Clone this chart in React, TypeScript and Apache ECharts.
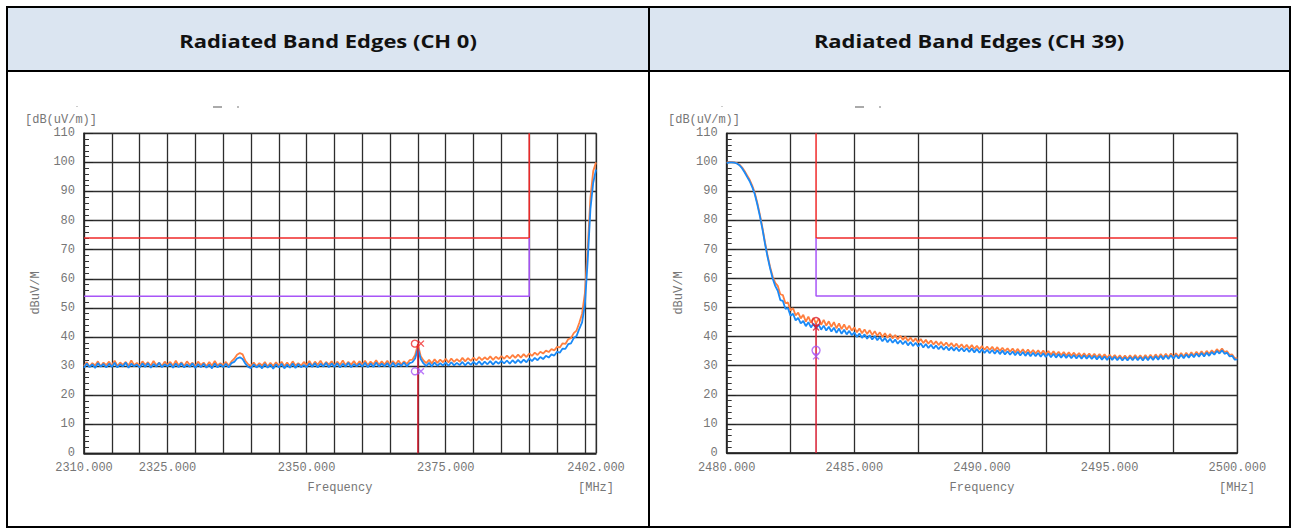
import React, { useEffect, useRef } from "react";
import * as echarts from "echarts";

// ---------- Titles ----------
const titles = ["Radiated Band Edges (CH 0)", "Radiated Band Edges (CH 39)"];

// ---------- Left chart (CH 0) ----------
const leftXLabels = [2310, 2325, 2350, 2375, 2402];
const leftFreq = [
  2310, 2310.5, 2311, 2311.5, 2312, 2312.5, 2313, 2313.5, 2314, 2314.5,
  2315, 2315.5, 2316, 2316.5, 2317, 2317.5, 2318, 2318.5, 2319, 2319.5,
  2320, 2320.5, 2321, 2321.5, 2322, 2322.5, 2323, 2323.5, 2324, 2324.5,
  2325, 2325.5, 2326, 2326.5, 2327, 2327.5, 2328, 2328.5, 2329, 2329.5,
  2330, 2330.5, 2331, 2331.5, 2332, 2332.5, 2333, 2333.5, 2334, 2334.5,
  2335, 2335.5, 2336, 2336.5, 2337, 2337.5, 2338, 2338.5, 2339, 2339.5,
  2340, 2340.5, 2341, 2341.5, 2342, 2342.5, 2343, 2343.5, 2344, 2344.5,
  2345, 2345.5, 2346, 2346.5, 2347, 2347.5, 2348, 2348.5, 2349, 2349.5,
  2350, 2350.5, 2351, 2351.5, 2352, 2352.5, 2353, 2353.5, 2354, 2354.5,
  2355, 2355.5, 2356, 2356.5, 2357, 2357.5, 2358, 2358.5, 2359, 2359.5,
  2360, 2360.5, 2361, 2361.5, 2362, 2362.5, 2363, 2363.5, 2364, 2364.5,
  2365, 2365.5, 2366, 2366.5, 2367, 2367.5, 2368, 2368.5, 2369, 2369.5,
  2370, 2370.5, 2371, 2371.5, 2372, 2372.5, 2373, 2373.5, 2374, 2374.5,
  2375, 2375.5, 2376, 2376.5, 2377, 2377.5, 2378, 2378.5, 2379, 2379.5,
  2380, 2380.5, 2381, 2381.5, 2382, 2382.5, 2383, 2383.5, 2384, 2384.5,
  2385, 2385.5, 2386, 2386.5, 2387, 2387.5, 2388, 2388.5, 2389, 2389.5,
  2390, 2390.5, 2391, 2391.5, 2392, 2392.5, 2393, 2393.5, 2394, 2394.5,
  2395, 2395.5, 2396, 2396.5, 2397, 2397.5, 2398, 2398.5, 2399, 2399.5,
  2400, 2400.5, 2401, 2401.5, 2402,
];
const leftPeak = [
  30.0, 31.3, 29.8, 31.0, 30.2, 31.6, 29.9, 31.2, 30.3, 31.5,
  30.1, 31.8, 30.0, 31.2, 30.4, 31.4, 30.2, 31.9, 30.3, 31.1,
  30.0, 31.6, 30.4, 31.3, 30.1, 31.7, 30.3, 31.2, 30.0, 31.5,
  30.3, 31.4, 30.1, 31.8, 30.2, 31.3, 30.0, 31.6, 30.4, 31.1,
  30.0, 31.5, 30.3, 31.2, 29.9, 31.4, 30.1, 31.7, 30.2, 31.0,
  30.3, 31.4, 30.1, 31.6, 32.5, 33.9, 34.5, 34.0, 31.8, 30.6,
  30.0, 31.2, 29.9, 31.0, 30.2, 31.4, 29.8, 31.1, 30.0, 31.3,
  30.1, 31.5, 29.9, 31.2, 30.0, 31.6, 30.2, 31.0, 30.1, 31.4,
  30.3, 31.7, 30.1, 31.5, 30.4, 31.8, 30.2, 31.4, 30.5, 31.6,
  30.2, 31.5, 30.4, 31.9, 30.3, 31.4, 30.5, 31.7, 30.3, 31.6,
  30.5, 31.8, 30.3, 31.5, 30.6, 32.0, 30.4, 31.6, 30.5, 31.8,
  30.4, 31.7, 30.6, 31.9, 30.5, 31.6, 30.7, 32.0, 32.2, 33.8,
  37.5, 33.4, 31.9, 31.0, 32.1, 30.9, 32.3, 31.1, 32.2, 31.3,
  32.5, 31.2, 32.6, 31.4, 32.4, 31.5, 32.8, 31.6, 32.7, 31.8,
  32.9, 31.9, 33.1, 32.0, 33.0, 32.2, 33.3, 32.1, 33.2, 32.4,
  33.4, 32.5, 33.6, 32.6, 33.8, 32.8, 33.9, 32.9, 34.1, 33.1,
  34.3, 33.5, 34.6, 33.8, 34.9, 34.3, 35.3, 34.8, 35.8, 35.4,
  36.6, 36.4, 37.8, 37.6, 39.2, 39.6, 41.3, 42.2, 44.9, 48.0,
  55.0, 70.0, 88.0, 97.0, 100.0,
];
const leftAvg = [
  29.4, 30.9, 29.6, 30.6, 29.3, 31.0, 29.8, 30.7, 29.5, 30.8,
  29.7, 31.1, 29.5, 30.6, 29.8, 31.2, 29.4, 30.8, 29.9, 30.5,
  29.5, 30.9, 29.7, 31.0, 29.4, 30.7, 29.8, 31.1, 29.6, 30.6,
  29.9, 30.8, 29.4, 30.9, 29.6, 31.0, 29.5, 30.6, 29.7, 30.9,
  29.3, 30.7, 29.6, 30.8, 29.4, 30.5, 29.2, 30.9, 29.5, 30.6,
  29.6, 30.8, 29.5, 31.0, 31.4, 32.6, 33.0, 32.4, 30.8, 29.7,
  29.3, 30.6, 29.5, 30.4, 29.2, 30.7, 29.4, 30.5, 29.1, 30.6,
  29.5, 30.8, 29.2, 30.5, 29.4, 30.9, 29.3, 30.7, 29.6, 30.4,
  29.6, 30.9, 29.7, 31.0, 29.5, 30.8, 29.8, 31.1, 29.6, 30.9,
  29.7, 31.0, 29.5, 30.8, 29.8, 31.1, 29.6, 30.7, 29.9, 30.8,
  29.8, 31.1, 29.6, 30.9, 29.7, 31.2, 29.8, 30.8, 29.9, 31.0,
  29.7, 31.1, 29.8, 30.9, 30.0, 31.2, 29.9, 31.0, 31.3, 32.6,
  36.0, 32.4, 30.9, 30.0, 31.1, 29.9, 31.2, 30.1, 31.0, 30.2,
  31.2, 30.1, 31.3, 30.2, 31.1, 30.3, 31.4, 30.2, 31.3, 30.4,
  31.4, 30.5, 31.6, 30.4, 31.5, 30.6, 31.7, 30.5, 31.6, 30.8,
  31.8, 30.9, 31.9, 30.8, 32.0, 31.0, 32.1, 31.1, 32.2, 31.3,
  32.6, 31.7, 32.8, 32.0, 33.1, 32.4, 33.5, 32.9, 34.0, 33.6,
  34.9, 34.6, 36.0, 35.9, 37.5, 37.8, 39.6, 40.3, 42.8, 45.0,
  51.0, 66.0, 84.0, 93.0, 97.5,
];
const leftLimitPeak = [[2310, 74], [2390, 74], [2390, 110]];
const leftLimitAvg = [[2310, 54], [2390, 54], [2390, 74]];
const leftMarkerLine = [[2370, 0], [2370, 37.7]];
const leftMarkerPeak = [2370, 37.7];
const leftMarkerAvg = [2370, 28.2];

// ---------- Right chart (CH 39) ----------
const rightXLabels = [2480, 2485, 2490, 2495, 2500];
const rightFreq = [
  2480.0, 2480.1, 2480.2, 2480.3, 2480.4, 2480.5, 2480.6, 2480.7, 2480.8, 2480.9,
  2481.0, 2481.1, 2481.2, 2481.3, 2481.4, 2481.5, 2481.6, 2481.7, 2481.8, 2481.9,
  2482.0, 2482.1, 2482.2, 2482.3, 2482.4, 2482.5, 2482.6, 2482.7, 2482.8, 2482.9,
  2483.0, 2483.1, 2483.2, 2483.3, 2483.4, 2483.5, 2483.6, 2483.7, 2483.8, 2483.9,
  2484.0, 2484.1, 2484.2, 2484.3, 2484.4, 2484.5, 2484.6, 2484.7, 2484.8, 2484.9,
  2485.0, 2485.1, 2485.2, 2485.3, 2485.4, 2485.5, 2485.6, 2485.7, 2485.8, 2485.9,
  2486.0, 2486.1, 2486.2, 2486.3, 2486.4, 2486.5, 2486.6, 2486.7, 2486.8, 2486.9,
  2487.0, 2487.1, 2487.2, 2487.3, 2487.4, 2487.5, 2487.6, 2487.7, 2487.8, 2487.9,
  2488.0, 2488.1, 2488.2, 2488.3, 2488.4, 2488.5, 2488.6, 2488.7, 2488.8, 2488.9,
  2489.0, 2489.1, 2489.2, 2489.3, 2489.4, 2489.5, 2489.6, 2489.7, 2489.8, 2489.9,
  2490.0, 2490.1, 2490.2, 2490.3, 2490.4, 2490.5, 2490.6, 2490.7, 2490.8, 2490.9,
  2491.0, 2491.1, 2491.2, 2491.3, 2491.4, 2491.5, 2491.6, 2491.7, 2491.8, 2491.9,
  2492.0, 2492.1, 2492.2, 2492.3, 2492.4, 2492.5, 2492.6, 2492.7, 2492.8, 2492.9,
  2493.0, 2493.1, 2493.2, 2493.3, 2493.4, 2493.5, 2493.6, 2493.7, 2493.8, 2493.9,
  2494.0, 2494.1, 2494.2, 2494.3, 2494.4, 2494.5, 2494.6, 2494.7, 2494.8, 2494.9,
  2495.0, 2495.1, 2495.2, 2495.3, 2495.4, 2495.5, 2495.6, 2495.7, 2495.8, 2495.9,
  2496.0, 2496.1, 2496.2, 2496.3, 2496.4, 2496.5, 2496.6, 2496.7, 2496.8, 2496.9,
  2497.0, 2497.1, 2497.2, 2497.3, 2497.4, 2497.5, 2497.6, 2497.7, 2497.8, 2497.9,
  2498.0, 2498.1, 2498.2, 2498.3, 2498.4, 2498.5, 2498.6, 2498.7, 2498.8, 2498.9,
  2499.0, 2499.1, 2499.2, 2499.3, 2499.4, 2499.5, 2499.6, 2499.7, 2499.8, 2499.9,
  2500.0,
];
const rightPeak = [
  99.9, 100.2, 100.1, 100.0, 99.7, 99.2, 98.3, 97.0, 95.5, 94.0,
  92.0, 89.5, 86.0, 82.0, 77.5, 72.5, 68.0, 64.0, 60.8, 58.5,
  57.5, 54.6, 54.3, 51.5, 51.8, 49.0, 49.8, 47.3, 48.3, 46.3,
  47.5, 45.2, 46.9, 44.8, 46.5, 44.5, 46.2, 44.1, 45.8, 43.8,
  45.3, 43.4, 45.0, 42.9, 44.6, 42.6, 44.2, 42.4, 43.8, 42.1,
  43.2, 41.5, 42.8, 41.2, 42.5, 40.9, 42.2, 40.6, 41.9, 40.3,
  41.5, 39.9, 41.2, 39.6, 40.9, 39.4, 40.6, 39.1, 40.3, 38.9,
  40.0, 38.5, 39.7, 38.3, 39.4, 38.0, 39.2, 37.8, 38.9, 37.6,
  38.7, 37.3, 38.4, 37.1, 38.2, 36.9, 38.0, 36.7, 37.8, 36.5,
  37.6, 36.3, 37.4, 36.1, 37.2, 35.9, 37.1, 35.8, 36.9, 35.7,
  36.8, 35.5, 36.6, 35.4, 36.5, 35.2, 36.4, 35.1, 36.2, 35.0,
  36.0, 34.8, 35.9, 34.6, 35.8, 34.5, 35.7, 34.4, 35.6, 34.3,
  35.4, 34.2, 35.3, 34.0, 35.2, 33.9, 35.1, 33.8, 35.0, 33.7,
  34.8, 33.6, 34.7, 33.5, 34.6, 33.4, 34.5, 33.3, 34.4, 33.2,
  34.3, 33.1, 34.2, 33.0, 34.1, 32.9, 34.0, 32.8, 33.9, 32.7,
  33.8, 32.6, 33.7, 32.5, 33.6, 32.4, 33.5, 32.4, 33.6, 32.5,
  33.7, 32.5, 33.6, 32.4, 33.7, 32.5, 33.8, 32.6, 33.9, 32.7,
  34.0, 32.8, 34.1, 32.9, 34.2, 33.0, 34.3, 33.1, 34.4, 33.2,
  34.5, 33.3, 34.6, 33.5, 34.8, 33.7, 35.0, 33.8, 35.1, 34.0,
  35.3, 34.4, 35.7, 34.8, 35.9, 34.7, 35.0, 33.7, 33.9, 32.6,
  32.6,
];
const rightAvg = [
  99.7, 100.0, 100.0, 99.9, 99.6, 99.0, 98.0, 96.6, 95.0, 93.5,
  91.5, 89.0, 85.5, 81.5, 77.0, 72.0, 67.5, 63.5, 60.0, 57.5,
  55.8, 52.6, 52.3, 49.6, 49.8, 47.2, 47.9, 45.6, 46.5, 44.6,
  45.4, 43.6, 45.0, 43.2, 44.5, 42.8, 44.2, 42.4, 43.8, 42.1,
  43.4, 41.8, 43.1, 41.3, 42.8, 41.0, 42.4, 40.8, 42.0, 40.5,
  41.5, 39.9, 41.1, 39.6, 40.8, 39.3, 40.5, 39.0, 40.2, 38.8,
  39.9, 38.4, 39.6, 38.1, 39.3, 37.9, 39.0, 37.6, 38.7, 37.4,
  38.5, 37.0, 38.2, 36.8, 37.9, 36.6, 37.7, 36.3, 37.5, 36.1,
  37.2, 35.9, 37.0, 35.7, 36.8, 35.5, 36.6, 35.3, 36.4, 35.2,
  36.3, 35.0, 36.1, 34.9, 36.0, 34.7, 35.9, 34.6, 35.8, 34.5,
  35.7, 34.4, 35.5, 34.3, 35.4, 34.1, 35.3, 34.0, 35.2, 33.9,
  35.0, 33.8, 34.9, 33.6, 34.8, 33.5, 34.7, 33.4, 34.6, 33.3,
  34.5, 33.3, 34.4, 33.1, 34.3, 33.0, 34.2, 32.9, 34.1, 32.8,
  34.0, 32.8, 33.9, 32.7, 33.8, 32.6, 33.7, 32.5, 33.6, 32.4,
  33.6, 32.4, 33.5, 32.3, 33.4, 32.2, 33.3, 32.1, 33.2, 32.0,
  33.2, 32.0, 33.1, 31.9, 33.0, 31.8, 32.9, 31.8, 33.0, 31.9,
  33.1, 31.9, 33.0, 31.8, 33.1, 31.9, 33.2, 32.0, 33.3, 32.1,
  33.4, 32.2, 33.5, 32.3, 33.6, 32.4, 33.7, 32.5, 33.8, 32.6,
  33.9, 32.8, 34.0, 32.9, 34.2, 33.1, 34.4, 33.2, 34.5, 33.4,
  34.7, 33.8, 35.1, 34.2, 35.3, 34.1, 34.5, 33.2, 33.4, 32.1,
  32.2,
];
const rightLimitPeak = [[2483.5, 110], [2483.5, 74], [2500, 74]];
const rightLimitAvg = [[2483.5, 74], [2483.5, 54], [2500, 54]];
const rightMarkerLine = [[2483.5, 0], [2483.5, 44.5]];
const rightMarkerPeak = [2483.5, 44.5];
const rightMarkerAvg = [2483.5, 34.6];

// ---------- Styling constants ----------
const ORANGE = "#FF7F3F";
const BLUE = "#1A8AF7";
const RED = "#F02A2A";
const PURPLE = "#A855F7";
const MARK_RED = "#D81E32";
const GRID_LINE = "#2d2d2d";
const LABEL = "#767676";
const MONO = '"Liberation Mono", "DejaVu Sans Mono", monospace';
const X_PATH = "path://M0,0L10,10M10,0L0,10";

function pairs(xs: number[], ys: number[]) {
  return xs.map((x, i) => [x, ys[i]]);
}

function yAxisCfg(gridIndex: number) {
  return {
    type: "value",
    gridIndex,
    min: 0,
    max: 110,
    interval: 10,
    axisLine: { show: true, lineStyle: { color: "#222", width: 1.5 } },
    axisTick: { show: true, inside: true, length: 9, lineStyle: { color: "#222", width: 1 } },
    minorTick: { show: true, splitNumber: 5, length: 5, lineStyle: { color: "#333", width: 1 } },
    splitLine: { show: true, lineStyle: { color: GRID_LINE, width: 1.3 } },
    axisLabel: { fontFamily: MONO, fontSize: 12, color: LABEL, margin: 9 },
  };
}

function xAxisCfg(gridIndex: number, min: number, max: number, interval: number, labels: number[]) {
  return {
    type: "value",
    gridIndex,
    min,
    max,
    interval,
    axisLine: { show: true, lineStyle: { color: "#222", width: 1.5 } },
    axisTick: { show: false },
    splitLine: { show: true, lineStyle: { color: GRID_LINE, width: 1.3 } },
    axisLabel: {
      fontFamily: MONO,
      fontSize: 12,
      color: LABEL,
      margin: 9,
      showMinLabel: true,
      showMaxLabel: true,
      hideOverlap: false,
      formatter: (v: number) =>
        labels.some((l) => Math.abs(l - v) < 1e-6) ? v.toFixed(3) : "",
    },
  };
}

function traceSeries(idx: number, data: number[][], color: string, z: number, width = 1.5) {
  return {
    type: "line",
    xAxisIndex: idx,
    yAxisIndex: idx,
    data,
    showSymbol: false,
    symbol: "none",
    silent: true,
    z,
    lineStyle: { color, width },
  };
}

function markerSymbol(idx: number, point: number[], color: string, symbol: string, offset: number[], size: number) {
  return {
    type: "scatter",
    xAxisIndex: idx,
    yAxisIndex: idx,
    data: [point],
    symbol,
    symbolSize: size,
    symbolOffset: offset,
    silent: true,
    z: 10,
    itemStyle: { color: "rgba(0,0,0,0)", borderColor: color, borderWidth: 1.4 },
  };
}

function textEl(text: string, x: number, y: number, font: string, fill: string, align = "center", extra: any = {}) {
  return {
    type: "text",
    x,
    y,
    z: 20,
    ...extra,
    style: { text, font, fill, align, verticalAlign: "middle" },
  };
}

export default function App() {
  const ref = useRef<HTMLDivElement>(null);

  useEffect(() => {
    if (!ref.current) return;
    const chart = echarts.init(ref.current, undefined, { renderer: "svg" });

    const L = { left: 84, top: 133.3, width: 512, height: 320 };
    const R = { left: 726.7, top: 133.3, width: 510.6, height: 319.6 };

    const monoFont = `12px ${MONO}`;
    const titleFont = 'bold 18px "Open Sans", "Noto Sans", sans-serif';

    const graphic: any[] = [
      // table header backgrounds
      { type: "rect", z: 0, shape: { x: 7, y: 7, width: 642, height: 64 }, style: { fill: "#DBE5F1" } },
      { type: "rect", z: 0, shape: { x: 649, y: 7, width: 641, height: 64 }, style: { fill: "#DBE5F1" } },
      // table borders
      { type: "rect", z: 1, shape: { x: 7, y: 7, width: 1283, height: 520 }, style: { fill: "none", stroke: "#000", lineWidth: 2 } },
      { type: "line", z: 1, shape: { x1: 7, y1: 71, x2: 1290, y2: 71 }, style: { stroke: "#000", lineWidth: 2 } },
      { type: "line", z: 1, shape: { x1: 649, y1: 7, x2: 649, y2: 527 }, style: { stroke: "#000", lineWidth: 2 } },
      // titles
      textEl(titles[0], 328, 41, titleFont, "#111", "center", { scaleX: 1.22 }),
      textEl(titles[1], 969, 41, titleFont, "#111", "center", { scaleX: 1.22 }),
      // clipped artifacts above plots
      { type: "rect", z: 2, shape: { x: 213, y: 106, width: 9, height: 2 }, style: { fill: "#aaa" } },
      { type: "rect", z: 2, shape: { x: 237, y: 106, width: 2, height: 2 }, style: { fill: "#bbb" } },
      { type: "rect", z: 2, shape: { x: 76, y: 106, width: 2, height: 1 }, style: { fill: "#ccc" } },
      { type: "rect", z: 2, shape: { x: 855, y: 106, width: 9, height: 2 }, style: { fill: "#aaa" } },
      { type: "rect", z: 2, shape: { x: 879, y: 106, width: 2, height: 2 }, style: { fill: "#bbb" } },
      { type: "rect", z: 2, shape: { x: 721, y: 106, width: 2, height: 1 }, style: { fill: "#ccc" } },
      // axis names - left
      textEl("[dB(uV/m)]", 25, 120, monoFont, LABEL, "left"),
      textEl("dBuV/M", 36, 293, monoFont, LABEL, "center", { rotation: Math.PI / 2 }),
      textEl("Frequency", 340, 488, monoFont, LABEL, "center"),
      textEl("[MHz]", 596, 488, monoFont, LABEL, "center"),
      // axis names - right
      textEl("[dB(uV/m)]", 668, 120, monoFont, LABEL, "left"),
      textEl("dBuV/M", 679, 293, monoFont, LABEL, "center", { rotation: Math.PI / 2 }),
      textEl("Frequency", 982, 488, monoFont, LABEL, "center"),
      textEl("[MHz]", 1237, 488, monoFont, LABEL, "center"),
    ];

    const option: any = {
      animation: false,
      backgroundColor: "#ffffff",
      grid: [
        { ...L, show: true, borderColor: "#9a9a9a", borderWidth: 1.5, backgroundColor: "transparent" },
        { ...R, show: true, borderColor: "#9a9a9a", borderWidth: 1.5, backgroundColor: "transparent" },
      ],
      xAxis: [
        xAxisCfg(0, 2310, 2402, 5, leftXLabels),
        xAxisCfg(1, 2480, 2500, 2.5, rightXLabels),
      ],
      yAxis: [yAxisCfg(0), yAxisCfg(1)],
      series: [
        // left chart
        traceSeries(0, leftLimitPeak, RED, 2),
        traceSeries(0, leftLimitAvg, PURPLE, 2),
        traceSeries(0, pairs(leftFreq, leftPeak), ORANGE, 4, 1.8),
        traceSeries(0, pairs(leftFreq, leftAvg), BLUE, 5, 1.8),
        traceSeries(0, leftMarkerLine, MARK_RED, 6),
        markerSymbol(0, leftMarkerPeak, RED, "circle", [-3, 0], 7),
        markerSymbol(0, leftMarkerPeak, RED, X_PATH, [3, 0], 6),
        markerSymbol(0, leftMarkerAvg, PURPLE, "circle", [-3, 0], 7),
        markerSymbol(0, leftMarkerAvg, PURPLE, X_PATH, [3, 0], 6),
        // right chart
        traceSeries(1, rightLimitPeak, RED, 2),
        traceSeries(1, rightLimitAvg, PURPLE, 2),
        traceSeries(1, pairs(rightFreq, rightPeak), ORANGE, 4, 1.8),
        traceSeries(1, pairs(rightFreq, rightAvg), BLUE, 5, 1.8),
        traceSeries(1, rightMarkerLine, MARK_RED, 6),
        markerSymbol(1, rightMarkerPeak, MARK_RED, "circle", [0, -2], 8),
        markerSymbol(1, rightMarkerPeak, MARK_RED, X_PATH, [0, 4], 6),
        markerSymbol(1, rightMarkerAvg, PURPLE, "circle", [0, -2], 8),
        markerSymbol(1, rightMarkerAvg, PURPLE, X_PATH, [0, 4], 6),
      ],
      graphic,
    };

    chart.setOption(option);
    return () => {
      chart.dispose();
    };
  }, []);

  return (
    <div
      ref={ref}
      style={{ position: "absolute", left: 0, top: 0, width: 1293, height: 529, background: "#fff" }}
    />
  );
}
